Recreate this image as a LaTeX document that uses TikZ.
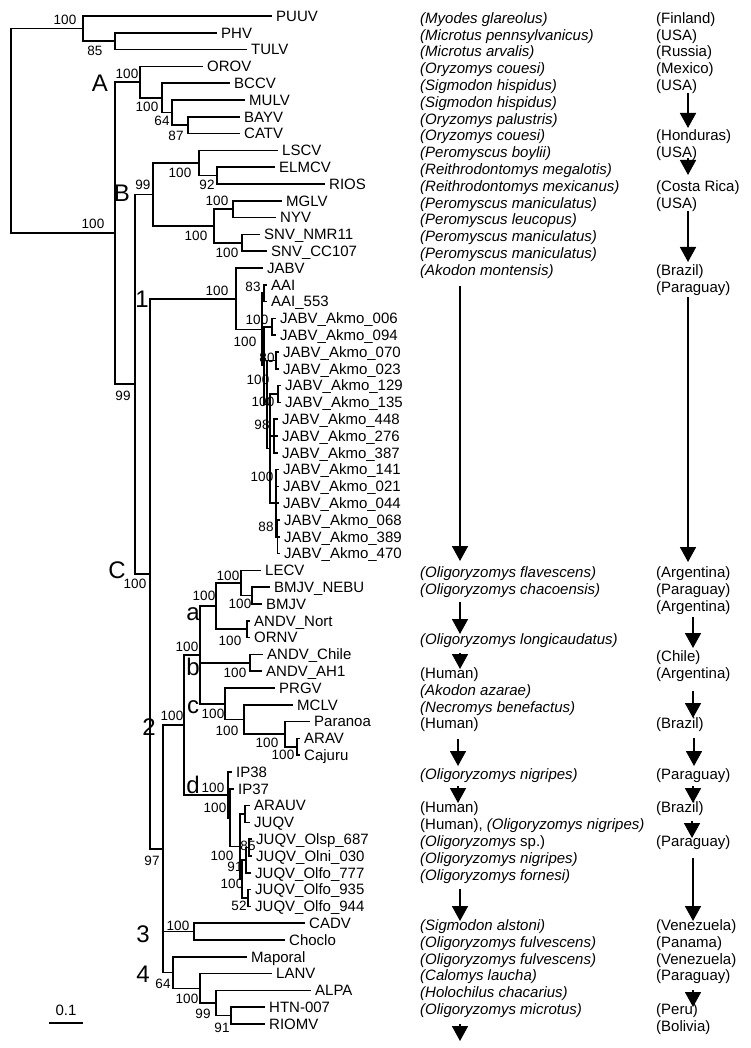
\documentclass[tikz,border=0pt]{standalone}
\usepackage{fontspec}
\setmainfont{Liberation Sans}
\usetikzlibrary{arrows.meta}
\begin{document}
\begin{tikzpicture}[x=1pt,y=-1pt,
  br/.style={line width=1.6pt},
  tip/.style={anchor=west,font=\fontsize{15}{17}\selectfont,inner xsep=4pt,inner ysep=0pt,text height=10.7pt,text depth=0pt},
  sup/.style={font=\fontsize{13.5}{15}\selectfont,inner sep=0pt,text height=9.7pt,text depth=0pt},
  big/.style={font=\fontsize{24}{26}\selectfont,inner sep=0pt,anchor=base,text height=12pt,text depth=0pt},
  sp/.style={anchor=west,font=\fontsize{15}{17}\selectfont\itshape,inner sep=0pt,text height=10.7pt,text depth=0pt},
  co/.style={anchor=west,font=\fontsize{15}{17}\selectfont,inner sep=0pt,text height=10.7pt,text depth=0pt},
  arr/.style={line width=1.7pt,-{Triangle[width=16pt,length=15pt]}}]
\fill[white] (0,0) rectangle (750,1048);
\useasboundingbox (0,0) rectangle (750,1048);
% internal nodes
\coordinate (root) at (11,130.9);
\coordinate (out) at (83,28.6);
\coordinate (PT) at (115,41.2);
\coordinate (ing) at (115,233.1);
\coordinate (nA) at (140,82.15);
\coordinate (nA1) at (162,97.9);
\coordinate (nA2) at (172,112.6);
\coordinate (nA3) at (188,125.2);
\coordinate (BC) at (135,384.1);
\coordinate (nB) at (153,194.5);
\coordinate (LEL) at (199,163);
\coordinate (ER) at (217,175.6);
\coordinate (MNS) at (214,226);
\coordinate (MN) at (233,209.2);
\coordinate (SN) at (242,242.8);
\coordinate (nC) at (150,573.7);
\coordinate (J1) at (236,298.7);
\coordinate (J2) at (262,329.4);
\coordinate (NAAI) at (264,293.2);
\coordinate (J3) at (264,365.65);
\coordinate (N006) at (272,326.8);
\coordinate (J4) at (267,404.5);
\coordinate (N070) at (276,360.4);
\coordinate (J5) at (270,448.6);
\coordinate (N129) at (278,394);
\coordinate (N448) at (274,436);
\coordinate (N141) at (276,503.2);
\coordinate (N88) at (277.5,536.8);
\coordinate (N234) at (163,848.7);
\coordinate (N2) at (184,724.9);
\coordinate (abc) at (200,654.9);
\coordinate (Na) at (216,606.1);
\coordinate (LB) at (241,583);
\coordinate (BM) at (252,595.6);
\coordinate (AO) at (247,629.2);
\coordinate (Nb) at (250,662.8);
\coordinate (Nc) at (225,703.75);
\coordinate (M) at (244,719.5);
\coordinate (PA) at (285,734.2);
\coordinate (AC) at (297,746.8);
\coordinate (Nd) at (228,794.85);
\coordinate (D2) at (230,817.7);
\coordinate (D3) at (240,846.55);
\coordinate (AJ) at (245,814);
\coordinate (D4) at (242,879.1);
\coordinate (N91) at (246,860.2);
\coordinate (N85) at (249,847.6);
\coordinate (N52) at (248,898);
\coordinate (N3c) at (194,931.6);
\coordinate (N4) at (173,972.55);
\coordinate (LA) at (200,988.3);
\coordinate (AH) at (216,1003);
\coordinate (HR) at (231,1015.6);
% tips
\foreach \n/\x/\r/\t in {PUUV/272/0/PUUV, PHV/217/1/PHV, TULV/247/2/TULV, OROV/203/3/OROV,
  BCCV/230/4/BCCV, MULV/245/5/MULV, BAYV/240/6/BAYV, CATV/240/7/CATV, LSCV/278/8/LSCV,
  ELMCV/275/9/ELMCV, RIOS/325/10/RIOS, MGLV/282/11/MGLV, NYV/276/12/NYV,
  SNVa/260/13/SNV\_NMR11, SNVb/267/14/SNV\_CC107, JABV/263/15/JABV, AAI/267/16/AAI,
  AAIb/267/17/AAI\_553, k006/276/18/JABV\_Akmo\_006, k094/276/19/JABV\_Akmo\_094,
  k070/279/20/JABV\_Akmo\_070, k023/279/21/JABV\_Akmo\_023, k129/281/22/JABV\_Akmo\_129,
  k135/281/23/JABV\_Akmo\_135, k448/278/24/JABV\_Akmo\_448, k276/278/25/JABV\_Akmo\_276,
  k387/278/26/JABV\_Akmo\_387, k141/279/27/JABV\_Akmo\_141, k021/279/28/JABV\_Akmo\_021,
  k044/279/29/JABV\_Akmo\_044, k068/280/30/JABV\_Akmo\_068, k389/280/31/JABV\_Akmo\_389,
  k470/280/32/JABV\_Akmo\_470, LECV/261/33/LECV, BMJVa/270/34/BMJV\_NEBU, BMJV/262/35/BMJV,
  ANDVa/250/36/ANDV\_Nort, ORNV/250/37/ORNV, ANDVb/263/38/ANDV\_Chile, ANDVc/262/39/ANDV\_AH1,
  PRGV/275/40/PRGV, MCLV/293/41/MCLV, Paranoa/310/42/Paranoa, ARAV/300/43/ARAV,
  Cajuru/300/44/Cajuru, IPa/232/45/IP38, IPb/234/46/IP37, ARAUV/250/47/ARAUV, JUQV/250/48/JUQV,
  Ja/252/49/JUQV\_Olsp\_687, Jb/252/50/JUQV\_Olni\_030, Jc/251/51/JUQV\_Olfo\_777,
  Jd/251/52/JUQV\_Olfo\_935, Je/251/53/JUQV\_Olfo\_944, CADV/305/54/CADV, Choclo/285/55/Choclo,
  Maporal/247/56/Maporal, LANV/272/57/LANV, ALPA/311/58/ALPA, HTN/265/59/HTN-007, RIOMV/265/60/RIOMV}
  \node[tip] (\n) at (\x,{16+16.8*\r}) {\t};
% branches
\foreach \p/\c in {root/out, root/ing, out/PUUV, out/PT, PT/PHV, PT/TULV, ing/nA, ing/BC,
  nA/OROV, nA/nA1, nA1/BCCV, nA1/nA2, nA2/MULV, nA2/nA3, nA3/BAYV, nA3/CATV,
  BC/nB, BC/nC, nB/LEL, nB/MNS, LEL/LSCV, LEL/ER, ER/ELMCV, ER/RIOS, MNS/MN, MNS/SN,
  MN/MGLV, MN/NYV, SN/SNVa, SN/SNVb, nC/J1, nC/N234, J1/JABV, J1/J2, J2/NAAI, J2/J3,
  NAAI/AAI, NAAI/AAIb, J3/N006, J3/J4, N006/k006, N006/k094, J4/N070, J4/J5, N070/k070, N070/k023,
  J5/N129, J5/N448, J5/N141, N129/k129, N129/k135, N448/k448, N448/k276, N448/k387,
  N141/k141, N141/k021, N141/k044, N141/N88, N88/k068, N88/k389, N88/k470,
  N234/N2, N234/N3c, N234/N4, N2/abc, N2/Nd, abc/Na, abc/Nb, abc/Nc, Na/LB, Na/AO,
  LB/LECV, LB/BM, BM/BMJVa, BM/BMJV, AO/ANDVa, AO/ORNV, Nb/ANDVb, Nb/ANDVc,
  Nc/PRGV, Nc/M, M/MCLV, M/PA, PA/Paranoa, PA/AC, AC/ARAV, AC/Cajuru,
  Nd/IPa, Nd/D2, D2/IPb, D2/D3, D3/AJ, D3/D4, AJ/ARAUV, AJ/JUQV, D4/N91, D4/N52,
  N91/N85, N91/Jc, N85/Ja, N85/Jb, N52/Jd, N52/Je, N3c/CADV, N3c/Choclo,
  N4/Maporal, N4/LA, LA/LANV, LA/AH, AH/ALPA, AH/HR, HR/HTN, HR/RIOMV}
  \draw[br] (\p) |- (\c);
% support values
\foreach \n/\x/\y/\t in {s1/65/20/100, s2/95/51/85, s3/93/224/100, s4/127/74/100, s5/147/107/100,
  s6/162/121/64, s7/176/136/87, s8/143/185/99, s9/180/173/100, s10/207/185/92, s11/217/201/100,
  s12/196/236/100, s13/227/253/100, s14/123/396/99, s15/217/291/100, s16/245/342/100,
  s17/253/287/83, s18/257/320/100, s19/267/358/80, s20/258/380/100, s21/263/402/100,
  s22/262/425/98, s23/262/477/100, s24/266/527/88, s25/135/584/100, s26/228/576/100,
  s27/204/596/100, s28/240/604/100, s29/230/641/100, s30/187/647/100, s31/235/673/100,
  s32/213/714/100, s33/227/731/100, s34/267/743/100, s35/283/755/100, s36/172/716/100,
  s37/213/788/100, s38/215/808/100, s39/222/856/100, s40/248/846/85, s41/235/867/91,
  s42/232/884/100, s43/239/906/52, s44/152/861/97, s45/178/926/100, s46/163/984/64,
  s47/187/999/100, s48/203/1014/99, s49/222/1028/91}
  \node[sup] (\n) at (\x,\y) {\t};
% clade letters
\foreach \n/\x/\y/\t in {LA1/100/92/A, LB1/122/202/B, LC1/117/578/C, L1/142/307/1, L2/149/735/2,
  L3/143/942/3, L4/143/982/4, La/193/620/a, Lb/193/675/b, Lc/193/713/c, Ld/193/793/d}
  \node[big] (\n) at (\x,\y) {\t};
% hosts
\foreach \r/\t in {0/{(Myodes glareolus)}, 1/{(Microtus pennsylvanicus)}, 2/{(Microtus arvalis)},
  3/{(Oryzomys couesi)}, 4/{(Sigmodon hispidus)}, 5/{(Sigmodon hispidus)}, 6/{(Oryzomys palustris)},
  7/{(Oryzomys couesi)}, 8/{(Peromyscus boylii)}, 9/{(Reithrodontomys megalotis)},
  10/{(Reithrodontomys mexicanus)}, 11/{(Peromyscus maniculatus)}, 12/{(Peromyscus leucopus)},
  13/{(Peromyscus maniculatus)}, 14/{(Peromyscus maniculatus)}, 15/{(Akodon montensis)},
  33/{(Oligoryzomys flavescens)}, 34/{(Oligoryzomys chacoensis)}, 37/{(Oligoryzomys longicaudatus)},
  39/{\upshape(Human)}, 40/{(Akodon azarae)}, 41/{(Necromys benefactus)}, 42/{\upshape(Human)},
  45/{(Oligoryzomys nigripes)}, 47/{\upshape(Human)}, 48/{\upshape(Human), \itshape(Oligoryzomys nigripes)},
  49/{(Oligoryzomys \upshape sp.)}, 50/{(Oligoryzomys nigripes)}, 51/{(Oligoryzomys fornesi)},
  54/{(Sigmodon alstoni)}, 55/{(Oligoryzomys fulvescens)}, 56/{(Oligoryzomys fulvescens)},
  57/{(Calomys laucha)}, 58/{(Holochilus chacarius)}, 59/{(Oligoryzomys microtus)}}
  \node[sp] (h\r) at (420,{18+16.8*\r}) {\t};
% countries
\foreach \r/\t in {0/Finland, 1/USA, 2/Russia, 3/Mexico, 4/USA, 7/Honduras, 8/USA, 10/Costa Rica,
  11/USA, 15/Brazil, 16/Paraguay, 33/Argentina, 34/Paraguay, 35/Argentina, 38/Chile, 39/Argentina,
  42/Brazil, 45/Paraguay, 47/Brazil, 49/Paraguay, 54/Venezuela, 55/Panama, 56/Venezuela,
  57/Paraguay, 59/Peru, 60/Bolivia}
  \node[co] (c\r) at (656,{18+16.8*\r}) {(\t)};
% arrows
\foreach \n/\x/\a/\b in {ha/460/286/561, hb/460/602/634, hc/460/653/669, hd/458/739/766,
  he/458/786/803, hf/460/889/921, hg/460/1024/1041,
  ca/688/93/128, cb/688/158/175, cc/688/211/262, cd/688/297/562, ce/693/617/648,
  cf/693/691/718, cg/694/738/766, ch/693/786/803, ci/692/821/838, cj/693/858/921, ck/693/990/1007}
  {\coordinate (\n1) at (\x,\a); \coordinate (\n2) at (\x,\b); \draw[arr] (\n1) -- (\n2);}
% scale bar
\coordinate (sbA) at (49,1023);
\coordinate (sbB) at (83,1023);
\draw[line width=1.4pt] (sbA) -- (sbB);
\node[sup,font=\fontsize{15}{17}\selectfont] (sbl) at (66,1011) {0.1};
\end{tikzpicture}
\end{document}
